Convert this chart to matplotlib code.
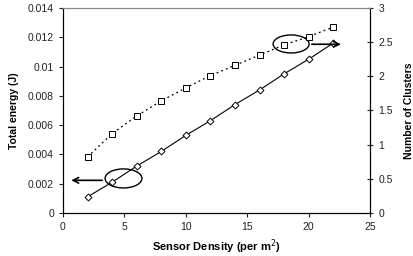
import matplotlib
matplotlib.use("Agg")
import matplotlib.pyplot as plt
from matplotlib.patches import Ellipse

plt.rcParams['font.family'] = ['Liberation Sans', 'DejaVu Sans']

density = [2, 4, 6, 8, 10, 12, 14, 16, 18, 20, 22]
energy = [0.0011, 0.0021, 0.0032, 0.0042, 0.0053, 0.0063, 0.0074, 0.0084, 0.0095, 0.0105, 0.0116]
clusters = [0.82, 1.16, 1.42, 1.64, 1.83, 2.01, 2.16, 2.31, 2.46, 2.58, 2.72]

x_ticks = [0, 5, 10, 15, 20, 25]
y1_ticks = [0, 0.002, 0.004, 0.006, 0.008, 0.01, 0.012, 0.014]
y1_labels = ['0', '0.002', '0.004', '0.006', '0.008', '0.01', '0.012', '0.014']
y2_ticks = [0, 0.5, 1, 1.5, 2, 2.5, 3]
y2_labels = ['0', '0.5', '1', '1.5', '2', '2.5', '3']

fig = plt.figure(figsize=(4.14, 2.56), dpi=100)
ax = fig.add_axes([0.152, 0.168, 0.742, 0.801])
ax2 = ax.twinx()

ax.plot(density, energy, color='black', lw=0.8, marker='D', ms=3.5,
        mfc='white', mec='black', mew=0.7, zorder=3)
ax2.plot(density, clusters, color='black', lw=0.9, ls=(0, (1.5, 2.5)), marker='s', ms=4,
         mfc='white', mec='black', mew=0.7, zorder=3)

ax.set_xlim(0, 25)
ax.set_ylim(0, 0.014)
ax2.set_ylim(0, 3)
ax.set_xticks(x_ticks)
ax.set_xticklabels([str(t) for t in x_ticks])
ax.set_yticks(y1_ticks)
ax.set_yticklabels(y1_labels)
ax2.set_yticks(y2_ticks)
ax2.set_yticklabels(y2_labels)

for a in (ax, ax2):
    a.tick_params(labelsize=7.5, colors='#222222', length=3, width=0.8)
    for s in a.spines.values():
        s.set_linewidth(0.8)
ax.spines['top'].set_color('#888888')
ax2.spines['top'].set_color('#888888')
ax2.tick_params(axis='y', direction='inout', length=5)

ax.set_xlabel('Sensor Density (per m$^2$)', fontsize=8, fontweight='bold', labelpad=4)
ax.set_ylabel('Total energy (J)', fontsize=7.5, fontweight='bold', labelpad=6)
ax2.set_ylabel('Number of Clusters', fontsize=7.5, fontweight='bold', labelpad=8)

# annotations
ax.add_patch(Ellipse((4.93, 0.00236), 3.0, 0.0013, fill=False, ec='black', lw=1.0, zorder=4))
ax.annotate('', xy=(0.45, 0.00223), xytext=(3.42, 0.00223),
            arrowprops=dict(arrowstyle='->', color='black', lw=1.2))
ax.add_patch(Ellipse((18.57, 0.01154), 2.93, 0.00123, fill=False, ec='black', lw=1.0, zorder=4))
ax.annotate('', xy=(22.85, 0.01152), xytext=(20.03, 0.01152),
            arrowprops=dict(arrowstyle='->', color='black', lw=1.2), annotation_clip=False)

fig.savefig('out.png', dpi=100)
